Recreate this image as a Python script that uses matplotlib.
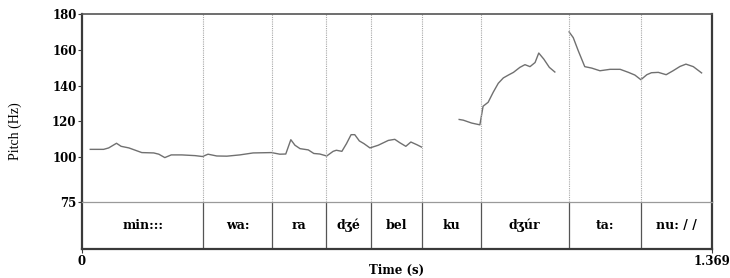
import matplotlib
matplotlib.use('Agg')
import matplotlib.pyplot as plt

# 音高曲线 (三段)
t1 = [0.018, 0.047, 0.058, 0.075, 0.085, 0.102, 0.116, 0.130, 0.156, 0.167, 0.180, 0.194,
      0.217, 0.246, 0.262, 0.274, 0.293, 0.315, 0.343, 0.372, 0.412, 0.430, 0.443, 0.454,
      0.463, 0.474, 0.492, 0.504, 0.517, 0.532, 0.546, 0.553, 0.565, 0.575, 0.585, 0.593,
      0.603, 0.613, 0.626, 0.644, 0.666, 0.680, 0.691, 0.704, 0.715, 0.728, 0.738]
hz1 = [104.4, 104.4, 105.2, 107.8, 106.1, 105.2, 103.9, 102.6, 102.4, 101.7, 99.8, 101.3,
       101.3, 100.9, 100.4, 101.7, 100.7, 100.6, 101.3, 102.4, 102.6, 101.7, 101.8, 109.8,
       106.7, 104.8, 104.1, 102.1, 101.8, 100.7, 103.3, 103.9, 103.3, 107.6, 112.6, 112.6,
       109.1, 107.6, 105.2, 106.7, 109.4, 110.0, 108.1, 106.1, 108.5, 107.0, 105.7]
t2 = [0.820, 0.829, 0.847, 0.865, 0.872, 0.883, 0.894, 0.905, 0.916, 0.927, 0.938, 0.952,
      0.963, 0.974, 0.985, 0.993, 1.004, 1.016, 1.028]
hz2 = [121.1, 120.7, 119.1, 118.1, 128.5, 130.7, 136.3, 141.3, 144.3, 145.9, 147.4, 150.2,
       151.7, 150.6, 152.9, 158.2, 154.8, 150.2, 147.6]
t3 = [1.059, 1.068, 1.079, 1.093, 1.108, 1.126, 1.148, 1.170, 1.188, 1.202, 1.215, 1.228,
      1.238, 1.253, 1.270, 1.285, 1.300, 1.313, 1.329, 1.347]
hz3 = [170.0, 166.8, 159.4, 150.6, 149.8, 148.3, 149.1, 149.1, 147.4, 145.9, 143.3, 146.1,
       147.2, 147.4, 146.1, 148.3, 150.7, 152.0, 150.6, 147.1]

# 音节边界与标注
bounds = [0.2637, 0.413, 0.531, 0.628, 0.739, 0.867, 1.058, 1.216]
syllables = ['min:::', 'wa:', 'ra', 'dʒé', 'bel', 'ku', 'dʒúr', 'ta:', 'nu: / /']
t_end = 1.369
y_ticks = [75, 100, 120, 140, 160, 180]

serif = ['DejaVu Serif']
dark = '#3a3a3a'

fig = plt.figure(figsize=(7.3, 2.78), dpi=100)
ax = fig.add_axes([82 / 730, 1 - 202 / 278, 629.7 / 730, 188 / 278])
tier = fig.add_axes([82 / 730, 1 - 249 / 278, 629.7 / 730, 47 / 278], sharex=ax)

# 绘制折线
for t, hz in [(t1, hz1), (t2, hz2), (t3, hz3)]:
    ax.plot(t, hz, color='#707070', lw=1.0)

for b in bounds:
    ax.axvline(b, color='#a8a8a8', lw=0.8, ls=(0, (1, 1)))
    tier.axvline(b, color='#555555', lw=0.9)

ax.set_xlim(0, t_end)
ax.set_ylim(75, 180)
ax.set_yticks(y_ticks)
ax.set_yticklabels([str(v) for v in y_ticks], family=serif, fontweight='bold', fontsize=8.5)
ax.tick_params(axis='y', length=3, width=0.8, color=dark, pad=1)
ax.tick_params(axis='x', bottom=False, labelbottom=False)
ax.spines['left'].set_color(dark)
ax.spines['left'].set_linewidth(1.6)
ax.spines['right'].set_color(dark)
ax.spines['right'].set_linewidth(1.6)
ax.spines['top'].set_color('#555555')
ax.spines['top'].set_linewidth(1.2)
ax.spines['bottom'].set_visible(False)
fig.text(15 / 730, 1 - 131 / 278, 'Pitch (Hz)', rotation=90, ha='center', va='center',
         family=['Liberation Serif'], fontsize=10)

edges = [0] + bounds + [t_end]
for i, lab in enumerate(syllables):
    tier.text((edges[i] + edges[i + 1]) / 2, 0.5, lab, ha='center', va='center',
              family=serif, fontweight='bold', fontsize=9)
tier.set_ylim(0, 1)
tier.set_yticks([])
tier.set_xticks([0, t_end])
tier.set_xticklabels(['0', '1.369'], family=serif, fontweight='bold', fontsize=8.5)
tier.tick_params(axis='x', length=3, width=0.8, color=dark, pad=1)
tier.spines['top'].set_color('#9a9a9a')
tier.spines['top'].set_linewidth(0.9)
tier.spines['left'].set_color(dark)
tier.spines['left'].set_linewidth(1.6)
tier.spines['right'].set_color(dark)
tier.spines['right'].set_linewidth(1.6)
tier.spines['bottom'].set_color(dark)
tier.spines['bottom'].set_linewidth(1.6)
fig.text(397 / 730, 1 - 270 / 278, 'Time (s)', ha='center', va='center',
         family=serif, fontweight='bold', fontsize=8.5)

fig.savefig('out.png', dpi=100)
